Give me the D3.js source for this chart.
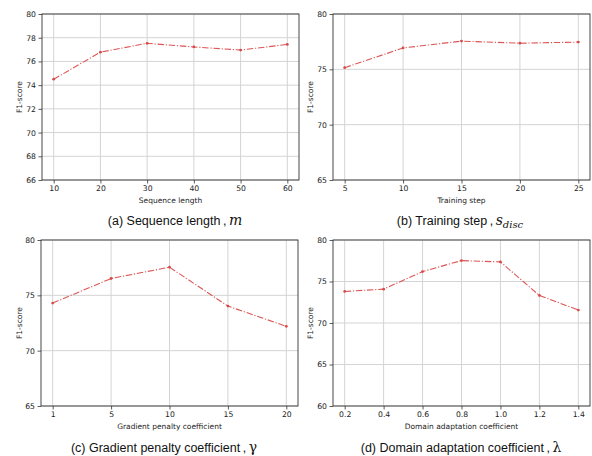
<!DOCTYPE html>
<html><head><meta charset="utf-8">
<script src="https://cdn.jsdelivr.net/npm/d3@7"></script>
<style>body{margin:0;background:#fff}</style>
</head><body>
<script>
// Data
const seqLen = [10, 20, 30, 40, 50, 60];
const seqF1 = [74.5, 76.78, 77.53, 77.22, 76.96, 77.43];
const trainStep = [5, 10, 15, 20, 25];
const trainF1 = [75.15, 76.93, 77.55, 77.36, 77.46];
const gpCats = ["1", "5", "10", "15", "20"];
const gpF1 = [74.3, 76.52, 77.54, 74.03, 72.2];
const daCoef = [0.2, 0.4, 0.6, 0.8, 1.0, 1.2, 1.4];
const daF1 = [73.8, 74.08, 76.2, 77.52, 77.36, 73.32, 71.56];
const yTicksA = [66, 68, 70, 72, 74, 76, 78, 80];
const yTicksB = [65, 70, 75, 80];
const yTicksC = [65, 70, 75, 80];
const yTicksD = [60, 65, 70, 75, 80];

const W = 592, H = 456;
const svg = d3.select("body").append("svg").attr("width", W).attr("height", H)
  .style("font-family", "'DejaVu Sans', sans-serif");

const panels = [
  {box:[42,299,14,180], xs:seqLen, ys:seqF1, xDom:[7.5,62.5], xTicks:seqLen, xFmt:d=>d, yDom:[66,80], yTicks:yTicksA,
   xlabel:"Sequence length", ylabX:20, cap:{x:175,y:225,label:"(a) Sequence length\u2009,\u2009", math:"m"}},
  {box:[333,590,14,180], xs:trainStep, ys:trainF1, xDom:[4,26], xTicks:trainStep, xFmt:d=>d, yDom:[65,80], yTicks:yTicksB,
   xlabel:"Training step", ylabX:311, cap:{x:460,y:225,label:"(b) Training step\u2009,\u2009", math:"s", sub:"disc"}},
  {box:[41,298,240,406], xs:gpCats.map((d,i)=>i), ys:gpF1, xDom:[-0.2,4.2], xTicks:gpCats.map((d,i)=>i), xFmt:i=>gpCats[i], yDom:[65,80], yTicks:yTicksC,
   xlabel:"Gradient penalty coefficient", ylabX:20, cap:{x:164,y:452,label:"(c) Gradient penalty coefficient\u2009,\u2009", math:"\u03B3", upright:true}},
  {box:[333,590,240,406], xs:daCoef, ys:daF1, xDom:[0.14,1.46], xTicks:daCoef, xFmt:d3.format(".1f"), yDom:[60,80], yTicks:yTicksD,
   xlabel:"Domain adaptation coefficient", ylabX:311, cap:{x:461,y:452,label:"(d) Domain adaptation coefficient\u2009,\u2009", math:"\u03BB", upright:true}}
];

panels.forEach(p => {
  const [l, r, t, b] = p.box;
  const x = d3.scaleLinear().domain(p.xDom).range([l, r]);
  const y = d3.scaleLinear().domain(p.yDom).range([b, t]);
  const g = svg.append("g");
  // grid
  g.selectAll(".gx").data(p.xTicks).enter().append("line")
    .attr("x1", d=>x(d)).attr("x2", d=>x(d)).attr("y1", t).attr("y2", b)
    .attr("stroke", "#d4d4d4").attr("stroke-width", 1);
  g.selectAll(".gy").data(p.yTicks).enter().append("line")
    .attr("x1", l).attr("x2", r).attr("y1", d=>y(d)).attr("y2", d=>y(d))
    .attr("stroke", "#d4d4d4").attr("stroke-width", 1);
  // axes
  const xa = g.append("g").attr("transform", `translate(0,${b})`)
    .call(d3.axisBottom(x).tickValues(p.xTicks).tickFormat(p.xFmt).tickSize(3.5).tickPadding(2.5));
  const ya = g.append("g").attr("transform", `translate(${l},0)`)
    .call(d3.axisLeft(y).tickValues(p.yTicks).tickSize(3.5).tickPadding(2.5));
  [xa, ya].forEach(a => {
    a.select(".domain").remove();
    a.selectAll("line").attr("stroke", "#333").attr("stroke-width", 0.8);
    a.selectAll("text").attr("font-size", "7.7px").attr("fill", "#222").attr("font-family", "'DejaVu Sans', sans-serif");
  });
  // frame
  g.append("rect").attr("x", l).attr("y", t).attr("width", r-l).attr("height", b-t)
    .attr("fill", "none").attr("stroke", "#333").attr("stroke-width", 0.9);
  // line
  const pts = p.xs.map((d,i)=>[d, p.ys[i]]);
  g.append("path").datum(pts)
    .attr("d", d3.line().x(d=>x(d[0])).y(d=>y(d[1])))
    .attr("fill", "none").attr("stroke", "#dd5555").attr("stroke-width", 1.1)
    .attr("stroke-dasharray", "6.4,1.8,1.2,1.8");
  g.selectAll(".pt").data(pts).enter().append("circle")
    .attr("cx", d=>x(d[0])).attr("cy", d=>y(d[1])).attr("r", 1.4).attr("fill", "#d84848");
  // labels
  g.append("text").attr("x", (l+r)/2).attr("y", b+22.5).attr("text-anchor", "middle")
    .attr("font-size", "7.5px").attr("fill", "#222").text(p.xlabel);
  g.append("text").attr("transform", `translate(${p.ylabX},${(t+b)/2}) rotate(-90)`)
    .attr("text-anchor", "middle").attr("dominant-baseline", "middle")
    .attr("font-size", "7.5px").attr("fill", "#222").text("F1-score");
  // caption
  const c = p.cap;
  const txt = g.append("text").attr("x", c.x).attr("y", c.y).attr("text-anchor", "middle")
    .attr("font-family", "'Liberation Sans', Arial, sans-serif").attr("font-size", "12.5px").attr("fill", "#111");
  txt.append("tspan").text(c.label);
  const m = txt.append("tspan").attr("font-family", "'DejaVu Serif', serif").attr("font-size", "14px").text(c.math);
  if (!c.upright) m.attr("font-style", "italic");
  if (c.sub) txt.append("tspan").attr("font-family", "'DejaVu Serif', serif").attr("font-style", "italic")
    .attr("font-size", "10px").attr("dy", "3").text(c.sub);
});
</script>
</body></html>
